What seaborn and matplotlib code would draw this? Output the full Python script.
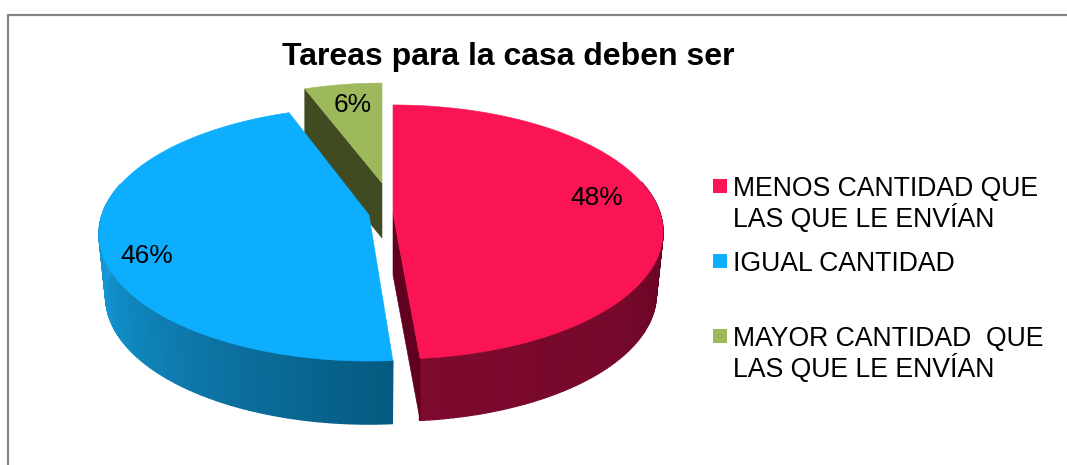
import numpy as np
import matplotlib
matplotlib.use("Agg")
import matplotlib.pyplot as plt
import seaborn as sns

# --- data -------------------------------------------------------------
title = "Tareas para la casa deben ser"
categories = ["MENOS CANTIDAD QUE\nLAS QUE LE ENVÍAN",
              "IGUAL CANTIDAD",
              "MAYOR CANTIDAD  QUE\nLAS QUE LE ENVÍAN"]
shares = [48.4, 45.8, 5.8]

# --- style ------------------------------------------------------------
top_colors = ["#FB1454", "#0DAEFD", "#9DB95C"]
side_ramps = [["#7E0A2E", "#74082A", "#5A001B"],
              ["#1A9FDC", "#1190CC", "#0D74A5", "#055A80"],
              ["#414B22", "#414B22"]]
cut_colors = ["#62001F", "#055A80", "#414B22"]
centres = [(393, 213), (369, 215), (382, 183)]
scales = [1.0, 1.0, 0.925]
depths = [62, 63, 55]
start_trim = [0.0, 1.4, 0.0]   # degrees of perspective correction
end_trim = [0.8, 0.9, 0.0]
label_xy = [(597, 198), (147, 256), (353, 105)]
legend_y = [186, 261, 336]
K, A, B = 0.1497, 124.2, 267.0

sns.set_theme(style="white")
plt.rcParams["font.family"] = ["Liberation Sans", "DejaVu Sans"]

fig = plt.figure(figsize=(10.67, 4.65), dpi=100)
ax = fig.add_axes([0, 0, 1, 1])
ax.set_xlim(0, 1067)
ax.set_ylim(465, 0)
ax.axis("off")


def rim(theta, centre, scale=1.0, depth=0.0, shrink=1.0):
    """Project pie angles (clockwise from the back) on the tilted disc."""
    u, v = np.sin(theta), np.cos(theta)
    w = 1 + K * v
    x = centre[0] + scale * shrink * B * u / w
    y = centre[1] - scale * A * v / w + depth
    return x, y


cum = np.concatenate([[0], np.cumsum(shares)]) * 3.6
starts = np.radians(cum[:-1] + start_trim)
ends = np.radians(cum[1:] + end_trim)


def top(i, z):
    t = np.linspace(starts[i], ends[i], 240)
    x, y = rim(t, centres[i], scales[i])
    ax.fill(np.r_[centres[i][0], x], np.r_[centres[i][1], y],
            color=top_colors[i], lw=0.4, zorder=z)


def side(i, a, b, z, n=110):
    t = np.linspace(a, b, n + 1)
    ramp = sns.blend_palette(side_ramps[i], n)[::-1]
    xt, yt = rim(t, centres[i], scales[i])
    xb, yb = rim(t, centres[i], scales[i], depths[i], 0.975)
    for k in range(n):
        ax.fill([xt[k], xt[k + 1], xb[k + 1], xb[k]],
                [yt[k], yt[k + 1], yb[k + 1], yb[k]],
                color=ramp[k], lw=1.0, zorder=z)


def cut(i, angle, z):
    c = centres[i]
    xo, yo = rim(np.array([angle]), c, scales[i])
    ax.fill([c[0], xo[0], xo[0], c[0]],
            [c[1], yo[0], yo[0] + depths[i], c[1] + depths[i]],
            color=cut_colors[i], lw=0.4, zorder=z)


# green slice, behind the blue one
cut(2, starts[2], 1)
top(2, 2)
# red slice: rim and inner cut
side(0, np.radians(75), ends[0], 3)
cut(0, ends[0], 3)
# blue slice
side(1, starts[1], np.radians(285), 4)
top(1, 5)
top(0, 6)

# percentage labels
for (lx, ly), s in zip(label_xy, shares):
    ax.text(lx, ly, f"{s:.0f}%", fontsize=19, color="black",
            ha="center", va="center", zorder=8)

ax.set_title(title, x=508 / 1067, y=1 - 65 / 465, va="center",
             fontsize=23, fontweight="bold", color="black")

# frame of the chart area (open to the right and below)
ax.plot([8, 8, 1067], [465, 15, 15], color="#868686", lw=1.6, zorder=9,
        solid_joinstyle="miter")

# legend keys and entries
for name, colour, y in zip(categories, top_colors, legend_y):
    ax.scatter([720], [y], marker="s", s=100, color=colour, linewidths=0,
               zorder=8)
    ax.text(733, y - 10.5, name, fontsize=19.15, color="black", ha="left",
            va="top", linespacing=1.09, zorder=8)

fig.savefig("out.png", dpi=100, facecolor="white")
